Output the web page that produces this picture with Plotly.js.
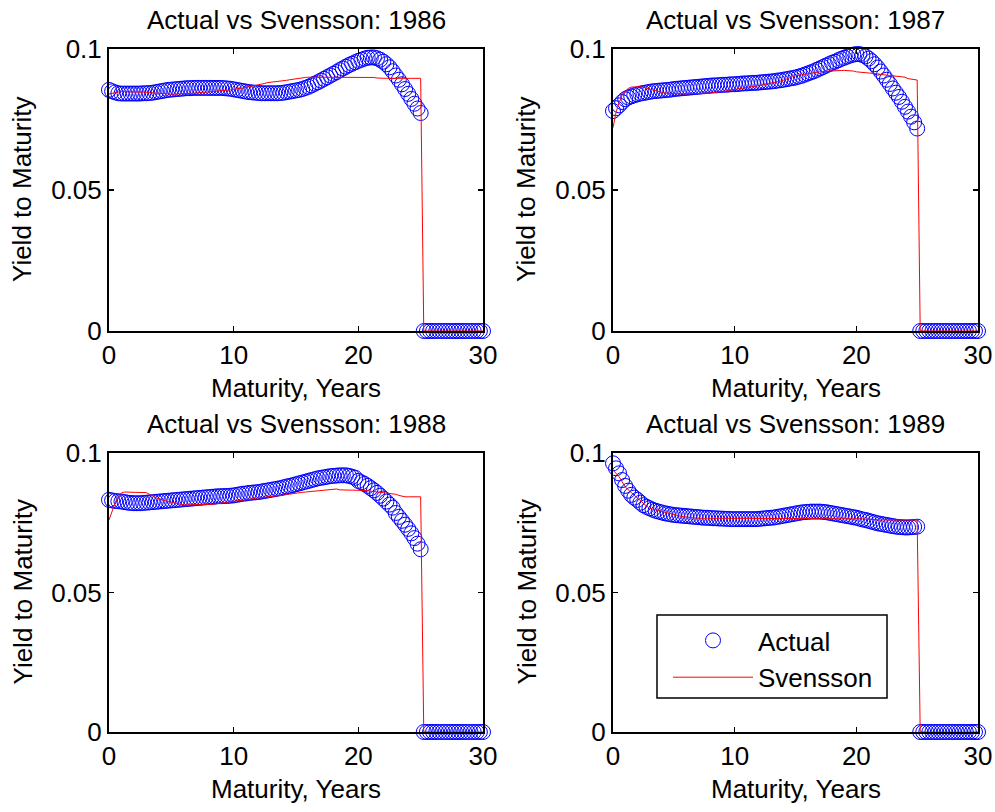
<!DOCTYPE html>
<html>
<head>
<meta charset="utf-8">
<script src="https://cdn.plot.ly/plotly-3.0.1.min.js"></script>
<style>html,body{margin:0;padding:0;background:#fff;}#chart{width:995px;height:812px;}</style>
</head>
<body>
<div id="chart"></div>
<script>
// Maturity grid (years)
const maturity = [
0,0.25,0.5,0.75,1,1.25,1.5,1.75,2,2.25,2.5,2.75,3,3.25,3.5,3.75,4,4.25,4.5,4.75,
5,5.25,5.5,5.75,6,6.25,6.5,6.75,7,7.25,7.5,7.75,8,8.25,8.5,8.75,9,9.25,9.5,9.75,
10,10.25,10.5,10.75,11,11.25,11.5,11.75,12,12.25,12.5,12.75,13,13.25,13.5,13.75,14,14.25,14.5,14.75,
15,15.25,15.5,15.75,16,16.25,16.5,16.75,17,17.25,17.5,17.75,18,18.25,18.5,18.75,19,19.25,19.5,19.75,
20,20.25,20.5,20.75,21,21.25,21.5,21.75,22,22.25,22.5,22.75,23,23.25,23.5,23.75,24,24.25,24.5,24.75,
25,25.25,25.5,25.75,26,26.25,26.5,26.75,27,27.25,27.5,27.75,28,28.25,28.5,28.75,29,29.25,29.5,29.75,30];

const years = ['1986','1987','1988','1989'];

const actual1986 = [
.0855,.0850,.0846,.0843, .0842,.0842,.0842,.0842, .0842,.0842,.0842,.0843, .0843,.0844,.0845,.0847,
.0849,.0851,.0853,.0855, .0856,.0857,.0858,.0859, .0860,.0861,.0861,.0862, .0862,.0862,.0862,.0862,
.0862,.0862,.0862,.0862, .0862,.0861,.0860,.0859, .0857,.0855,.0853,.0851, .0849,.0847,.0846,.0845,
.0844,.0843,.0843,.0843, .0843,.0843,.0843,.0844, .0845,.0847,.0849,.0851, .0853,.0855,.0858,.0862,
.0866,.0871,.0877,.0882, .0888,.0894,.0900,.0906, .0912,.0918,.0925,.0931, .0937,.0943,.0948,.0953,
.0958,.0962,.0966,.0969, .0970,.0970,.0967,.0962, .0955,.0946,.0935,.0921, .0906,.0891,.0875,.0858,
.0841,.0823,.0806,.0789, .0773,
0,0,0,0, 0,0,0,0, 0,0,0,0, 0,0,0,0, 0,0,0,0];

const svensson1986 = [
.0840,.0843,.0846,.0848, .0849,.0849,.0849,.0849, .0849,.0848,.0848,.0847, .0846,.0845,.0845,.0844,
.0843,.0842,.0841,.0840, .0840,.0840,.0841,.0841, .0842,.0842,.0843,.0843, .0844,.0844,.0845,.0845,
.0846,.0847,.0848,.0849, .0851,.0852,.0853,.0855, .0857,.0858,.0860,.0862, .0864,.0866,.0868,.0870,
.0872,.0875,.0878,.0881, .0882,.0883,.0884,.0885, .0887,.0889,.0891,.0893, .0895,.0897,.0898,.0899,
.0900,.0900,.0900,.0900, .0901,.0901,.0901,.0901, .0901,.0901,.0901,.0901, .0901,.0901,.0901,.0901,
.0901,.0901,.0901,.0901, .0901,.0899,.0897,.0896, .0896,.0896,.0896,.0896, .0896,.0896,.0896,.0896,
.0896,.0896,.0896,.0896, .0896,
0,0,0,0, 0,0,0,0, 0,0,0,0, 0,0,0,0, 0,0,0,0];

const actual1987 = [
.0780,.0790,.0800,.0812, .0822,.0828,.0832,.0836, .0839,.0842,.0844,.0846, .0848,.0850,.0851,.0852,
.0853,.0854,.0855,.0856, .0858,.0859,.0860,.0861, .0862,.0863,.0864,.0865, .0866,.0867,.0868,.0869,
.0870,.0871,.0871,.0872, .0873,.0873,.0874,.0875, .0875,.0876,.0877,.0878, .0878,.0879,.0880,.0880,
.0881,.0882,.0883,.0884, .0885,.0886,.0888,.0889, .0891,.0893,.0895,.0897, .0899,.0902,.0905,.0909,
.0913,.0917,.0921,.0926, .0931,.0936,.0941,.0946, .0951,.0955,.0960,.0965, .0969,.0973,.0977,.0980,
.0982,.0982,.0979,.0974, .0966,.0957,.0946,.0934, .0920,.0906,.0891,.0876, .0860,.0845,.0830,.0813,
.0795,.0778,.0760,.0740, .0718,
0,0,0,0, 0,0,0,0, 0,0,0,0, 0,0,0,0, 0,0,0,0];

const svensson1987 = [
.0721,.0775,.0810,.0835, .0850,.0860,.0865,.0866, .0866,.0866,.0864,.0862, .0858,.0855,.0852,.0849,
.0846,.0844,.0843,.0842, .0841,.0841,.0841,.0841, .0841,.0841,.0842,.0842, .0842,.0843,.0843,.0843,
.0844,.0845,.0846,.0847, .0849,.0851,.0853,.0855, .0857,.0859,.0861,.0863, .0864,.0866,.0867,.0868,
.0870,.0872,.0874,.0876, .0878,.0880,.0883,.0886, .0889,.0894,.0898,.0902, .0905,.0907,.0909,.0911,
.0913,.0915,.0917,.0918, .0919,.0920,.0921,.0922, .0923,.0924,.0924,.0924, .0924,.0924,.0924,.0922,
.0919,.0918,.0918,.0918, .0917,.0916,.0914,.0912, .0910,.0908,.0907,.0906, .0905,.0904,.0903,.0902,
.0900,.0895,.0893,.0892, .0890,
0,0,0,0, 0,0,0,0, 0,0,0,0, 0,0,0,0, 0,0,0,0];

const actual1988 = [
.0832,.0830,.0828,.0827, .0826,.0824,.0822,.0821, .0820,.0820,.0820,.0821, .0822,.0823,.0824,.0825,
.0826,.0827,.0828,.0829, .0830,.0831,.0832,.0833, .0834,.0835,.0836,.0837, .0838,.0839,.0840,.0841,
.0842,.0843,.0844,.0845, .0845,.0846,.0846,.0847, .0848,.0850,.0852,.0854, .0855,.0857,.0858,.0859,
.0860,.0862,.0864,.0866, .0868,.0870,.0872,.0874, .0877,.0880,.0882,.0885, .0888,.0891,.0894,.0897,
.0900,.0903,.0906,.0909, .0911,.0913,.0915,.0917, .0918,.0919,.0920,.0920, .0920,.0918,.0915,.0911,
.0900,.0895,.0889,.0882, .0874,.0866,.0857,.0847, .0837,.0826,.0815,.0804, .0785,.0771,.0757,.0743,
.0728,.0712,.0695,.0675, .0655,
0,0,0,0, 0,0,0,0, 0,0,0,0, 0,0,0,0, 0,0,0,0];

const svensson1988 = [
.0760,.0795,.0822,.0845, .0857,.0860,.0860,.0860, .0860,.0860,.0860,.0860, .0858,.0852,.0845,.0840,
.0836,.0832,.0829,.0826, .0824,.0821,.0818,.0816, .0814,.0814,.0814,.0814, .0814,.0814,.0814,.0815,
.0815,.0816,.0817,.0818, .0820,.0822,.0824,.0826, .0828,.0829,.0830,.0831, .0832,.0834,.0836,.0838,
.0839,.0840,.0841,.0842, .0843,.0845,.0846,.0847, .0849,.0851,.0853,.0855, .0857,.0858,.0859,.0860,
.0861,.0862,.0863,.0864, .0865,.0866,.0867,.0868, .0868,.0871,.0868,.0867, .0867,.0867,.0867,.0867,
.0867,.0867,.0866,.0865, .0863,.0861,.0860,.0859, .0858,.0857,.0856,.0855, .0852,.0848,.0845,.0843,
.0843,.0843,.0843,.0843, .0843,
0,0,0,0, 0,0,0,0, 0,0,0,0, 0,0,0,0, 0,0,0,0];

const actual1989 = [
.0963,.0945,.0927,.0903, .0882,.0865,.0850,.0840, .0832,.0822,.0813,.0807, .0802,.0797,.0793,.0790,
.0787,.0784,.0782,.0780, .0778,.0777,.0776,.0775, .0774,.0773,.0772,.0771, .0770,.0769,.0768,.0768,
.0767,.0766,.0766,.0765, .0765,.0764,.0764,.0763, .0763,.0763,.0763,.0763, .0763,.0763,.0763,.0763,
.0764,.0765,.0766,.0767, .0768,.0769,.0771,.0773, .0775,.0777,.0779,.0781, .0783,.0785,.0787,.0788,
.0789,.0790,.0790,.0790, .0790,.0789,.0788,.0786, .0784,.0782,.0780,.0778, .0776,.0774,.0772,.0770,
.0768,.0765,.0762,.0760, .0757,.0754,.0751,.0748, .0746,.0744,.0742,.0740, .0738,.0736,.0735,.0734,
.0733,.0733,.0734,.0735, .0736,
0,0,0,0, 0,0,0,0, 0,0,0,0, 0,0,0,0, 0,0,0,0];

const svensson1989 = [
.0939,.0927,.0915,.0897, .0879,.0868,.0858,.0848, .0838,.0829,.0819,.0810, .0802,.0799,.0796,.0793,
.0790,.0787,.0784,.0781, .0778,.0776,.0774,.0772, .0770,.0769,.0768,.0767, .0766,.0766,.0766,.0766,
.0766,.0766,.0766,.0766, .0766,.0766,.0766,.0766, .0766,.0766,.0766,.0766, .0766,.0766,.0766,.0766,
.0766,.0766,.0766,.0766, .0766,.0766,.0766,.0766, .0766,.0766,.0766,.0766, .0766,.0766,.0766,.0766,
.0766,.0766,.0766,.0766, .0766,.0766,.0766,.0766, .0766,.0766,.0766,.0766, .0766,.0766,.0766,.0766,
.0766,.0765,.0764,.0763, .0762,.0761,.0760,.0760, .0760,.0760,.0760,.0760, .0760,.0760,.0760,.0760,
.0760,.0760,.0760,.0760, .0760,
0,0,0,0, 0,0,0,0, 0,0,0,0, 0,0,0,0, 0,0,0,0];

const xTicks = [0, 10, 20, 30];
const yTicks = [0, 0.05, 0.1];
const yTickText = ['0', '0.05', '0.1'];

const actualSeries = [actual1986, actual1987, actual1988, actual1989];
const svenssonSeries = [svensson1986, svensson1987, svensson1988, svensson1989];

const W = 995, H = 812;
const FONT = 'Liberation Sans, Arial, Helvetica, sans-serif';
const FS = 26;
// panel boxes in pixels [left, right, top, bottom]
const boxes = [[109,483,49,331],[613,978,49,331],[109,483,453,732],[613,978,453,732]];

const traces = [];
const layout = {
  width: W, height: H,
  margin: {l:0, r:0, t:0, b:0},
  paper_bgcolor: 'white', plot_bgcolor: 'white',
  font: {family: FONT, size: FS, color: 'black'},
  showlegend: true,
  legend: {
    x: 668/W, y: 1 - 617/H, xanchor: 'left', yanchor: 'top',
    bgcolor: 'rgba(0,0,0,0)', borderwidth: 0,
    font: {family: FONT, size: FS, color: 'black'},
    itemwidth: 80, tracegroupgap: 0
  },
  annotations: [],
  shapes: [{
    type: 'rect', xref: 'paper', yref: 'paper',
    x0: 657/W, x1: 887/W, y0: 1 - 698/H, y1: 1 - 615/H,
    line: {color: 'black', width: 1.5}, fillcolor: 'white', layer: 'above'
  }]
};

years.forEach((yr, i) => {
  const n = i === 0 ? '' : String(i + 1);
  const b = boxes[i];
  traces.push({
    x: maturity, y: actualSeries[i], xaxis: 'x' + n, yaxis: 'y' + n,
    type: 'scatter', mode: 'markers', name: 'Actual', showlegend: i === 3,
    cliponaxis: false,
    marker: {symbol: 'circle-open', size: 15, color: 'rgb(0,0,255)', line: {width: 1, color: 'rgb(0,0,255)'}}
  });
  traces.push({
    x: maturity, y: svenssonSeries[i], xaxis: 'x' + n, yaxis: 'y' + n,
    type: 'scatter', mode: 'lines', name: 'Svensson', showlegend: i === 3,
    cliponaxis: false,
    line: {color: 'rgb(255,0,0)', width: 1}
  });
  const common = {
    ticks: 'inside', ticklen: 5, tickwidth: 1.5, tickcolor: 'black',
    showline: true, linecolor: 'black', linewidth: 2, mirror: 'ticks',
    showgrid: false, zeroline: false, fixedrange: true,
    tickfont: {family: FONT, size: FS, color: 'black'}
  };
  layout['xaxis' + n] = Object.assign({}, common, {
    domain: [b[0]/W, b[1]/W], anchor: 'y' + n, range: [0, 30],
    tickmode: 'array', tickvals: xTicks
  });
  layout['yaxis' + n] = Object.assign({}, common, {
    domain: [1 - b[3]/H, 1 - b[2]/H], anchor: 'x' + n, range: [0, 0.1],
    tickmode: 'array', tickvals: yTicks, ticktext: yTickText
  });
  const cx = (b[0] + b[1]) / 2;
  layout.annotations.push({
    text: 'Actual vs Svensson: ' + yr, xref: 'paper', yref: 'paper',
    x: cx / W, y: 1 - (b[2] - 29) / H, xanchor: 'center', yanchor: 'middle',
    showarrow: false, font: {family: FONT, size: FS, color: 'black'}
  });
  layout.annotations.push({
    text: 'Maturity, Years', xref: 'paper', yref: 'paper',
    x: cx / W, y: 1 - (b[3] + 57) / H, xanchor: 'center', yanchor: 'middle',
    showarrow: false, font: {family: FONT, size: FS, color: 'black'}
  });
  layout.annotations.push({
    text: 'Yield to Maturity', xref: 'paper', yref: 'paper',
    x: (b[0] - 87) / W, y: 1 - ((b[2] + b[3]) / 2) / H, xanchor: 'center', yanchor: 'middle',
    textangle: -90, showarrow: false, font: {family: FONT, size: FS, color: 'black'}
  });
});

Plotly.newPlot('chart', traces, layout, {staticPlot: true, displayModeBar: false});
</script>
</body>
</html>
